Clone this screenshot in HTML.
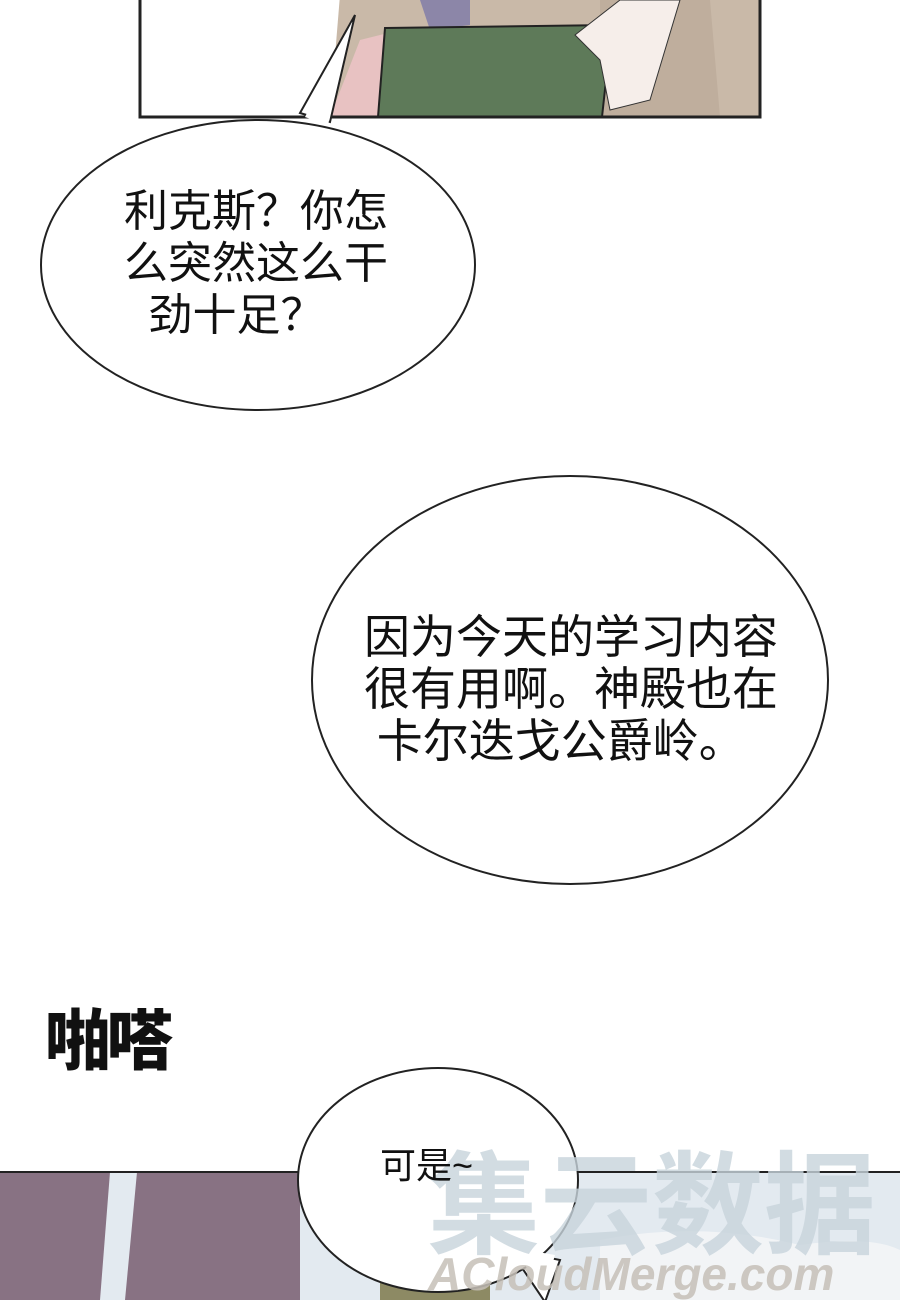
<!DOCTYPE html>
<html><head><meta charset="utf-8"><style>
body{margin:0;width:900px;height:1300px;background:#fff;position:relative;overflow:hidden;font-family:"Liberation Sans","Noto Sans CJK SC",sans-serif}
.t{position:absolute;color:#111;font-size:44px;line-height:52px;text-align:left;white-space:nowrap}
</style></head><body>
<svg width="900" height="1300" style="position:absolute;left:0;top:0">
<rect x="140" y="-5" width="620" height="122" fill="#fff"/>
<path d="M340 -5 L760 -5 L760 117 L330 117 Z" fill="#c9b9a8"/>
<path d="M360 40 L400 30 L420 117 L330 117 Z" fill="#e8c2c2"/>
<path d="M420 0 L470 0 L470 25 L430 30 Z" fill="#8c86a8"/>
<path d="M600 0 L710 0 L720 117 L600 117 Z" fill="#bfae9d"/>
<path d="M385 28 L612 25 L602 117 L378 117 Z" fill="#5e7a59" stroke="#222" stroke-width="2"/>
<path d="M575 35 L620 0 L680 0 L650 100 L610 110 L600 60 Z" fill="#f6eeea" stroke="#333" stroke-width="1"/>
<path d="M140 -5 L140 117 L760 117 L760 -5" fill="none" stroke="#222" stroke-width="3"/>
<path d="M355 15 L300 113 L330 122 Z" fill="#fff" stroke="#222" stroke-width="2"/>
<ellipse cx="258" cy="265" rx="217" ry="145" fill="#fff" stroke="#222" stroke-width="2"/>
<path d="M352 22 L305 117 L328 125 Z" fill="#fff"/>
<ellipse cx="570" cy="680" rx="258" ry="204" fill="#fff" stroke="#222" stroke-width="2"/>
<rect x="0" y="1172" width="900" height="130" fill="#e3eaf0"/>
<path d="M600 1240 Q700 1220 800 1245 Q870 1235 900 1250 L900 1300 L600 1300Z" fill="#f2f4f6"/>
<path d="M0 1172 L110 1172 L100 1300 L0 1300Z" fill="#887283"/>
<path d="M137 1172 L300 1172 L300 1300 L125 1300Z" fill="#887283"/>
<rect x="380" y="1255" width="110" height="50" fill="#8d8a64"/>
<line x1="0" y1="1172" x2="900" y2="1172" stroke="#222" stroke-width="2"/>
<path d="M510 1250 L545 1302 L560 1260Z" fill="#fff" stroke="#222" stroke-width="2"/>
<ellipse cx="438" cy="1180" rx="140" ry="112" fill="#fff" stroke="#222" stroke-width="2"/>
<path d="M515 1248 L543 1296 L555 1255Z" fill="#fff"/>
<text x="428" y="1245" font-size="112" font-weight="bold" fill="#c8d4dc" font-family="Noto Sans CJK SC, sans-serif" opacity="0.8">集云数据</text>
<text x="428" y="1290" font-size="46" font-weight="bold" font-style="italic" fill="#c6c0b8" font-family="Liberation Sans, sans-serif" opacity="0.85">ACloudMerge.com</text>
</svg>
<div class="t" style="left:124px;top:186px;">利克斯？你怎<br>么突然这么干<br>&nbsp;&nbsp;劲十足？</div>
<div class="t" style="left:364px;top:611px;font-size:46px;">因为今天的学习内容<br>很有用啊。神殿也在<br>&nbsp;卡尔迭戈公爵岭。</div>
<div class="t" style="left:45px;top:1005px;font-size:66px;line-height:72px;font-weight:900;letter-spacing:-4px;">啪嗒</div>
<div class="t" style="left:380px;top:1146px;font-size:36px;line-height:40px;">可是~</div>
</body></html>
